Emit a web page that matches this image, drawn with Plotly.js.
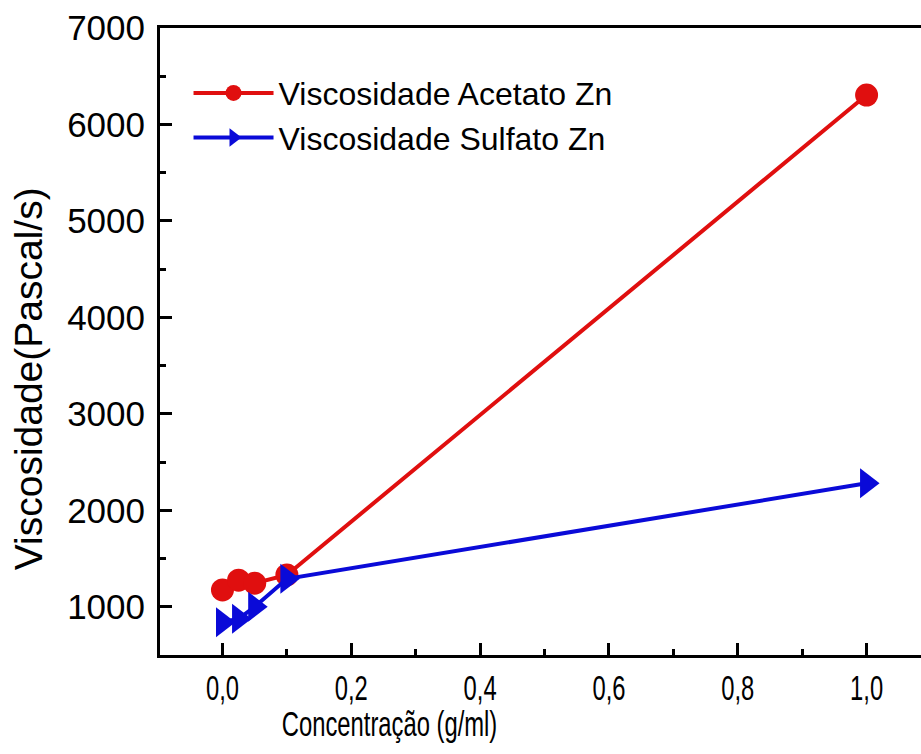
<!DOCTYPE html>
<html>
<head>
<meta charset="utf-8">
<script src="https://cdn.plot.ly/plotly-3.0.1.min.js"></script>
<style>
html, body { margin: 0; padding: 0; overflow: hidden; background: #fff; }
#chart { width: 921px; height: 754px; overflow: hidden; }
/* the reference draws the x-axis texts in a narrow face: compress them horizontally */
#chart g.xtick { transform-box: fill-box; transform-origin: center; transform: scaleX(0.68); }
#chart g.annotation[data-index="0"] text { transform-box: fill-box; transform-origin: center; transform: scaleX(0.68); }
</style>
</head>
<body>
<div id="chart"></div>
<script>
// Data
const concentracao = [0, 0.025, 0.05, 0.1, 1.0];
const viscAcetato = [1175, 1275, 1245, 1330, 6305];
const viscSulfato = [840, 875, 1000, 1290, 2280];
const seriesNames = ["Viscosidade Acetato Zn", "Viscosidade Sulfato Zn"];
const xTitle = "Concentração (g/ml)";
const yTitle = "Viscosidade(Pascal/s)";

const red = "#e00f0f";
const blue = "#0a0ad8";
const mainFont = "Arial, 'Liberation Sans', sans-serif";

const traces = [
  {
    x: concentracao, y: viscAcetato, name: seriesNames[0],
    type: "scatter", mode: "lines+markers",
    line: { color: red, width: 4 },
    marker: { symbol: "circle", size: 23, color: red }
  },
  {
    x: concentracao, y: viscSulfato, name: seriesNames[1],
    type: "scatter", mode: "lines+markers",
    line: { color: blue, width: 4 },
    marker: { symbol: "triangle-right", size: 26, color: blue }
  }
];

const layout = {
  width: 960, height: 754,
  margin: { l: 160, r: 29, t: 28, b: 99 },
  paper_bgcolor: "#fff", plot_bgcolor: "#fff",
  separators: ",.",
  showlegend: true,
  legend: {
    x: 0.037, y: 0.94, xanchor: "left", yanchor: "top",
    font: { family: mainFont, size: 32, color: "#000" },
    bgcolor: "rgba(0,0,0,0)", borderwidth: 0,
    itemwidth: 80, tracegroupgap: 0
  },
  xaxis: {
    range: [-0.097, 1.1],
    showline: true, linecolor: "#000", linewidth: 3, mirror: true,
    showgrid: false, zeroline: false,
    ticks: "inside", ticklen: 12, tickwidth: 3, tickcolor: "#000",
    dtick: 0.2, tick0: 0, tickformat: ".1f",
    minor: { dtick: 0.1, tick0: 0, ticks: "inside", ticklen: 6, tickwidth: 3, tickcolor: "#000", showgrid: false },
    tickfont: { family: mainFont, size: 35, color: "#000" },
    ticklabelstandoff: 0
  },
  yaxis: {
    range: [500, 7000],
    showline: true, linecolor: "#000", linewidth: 3, mirror: true,
    showgrid: false, zeroline: false,
    ticks: "inside", ticklen: 12, tickwidth: 3, tickcolor: "#000",
    dtick: 1000, tick0: 0, tickformat: "d",
    minor: { dtick: 500, tick0: 0, ticks: "inside", ticklen: 6, tickwidth: 3, tickcolor: "#000", showgrid: false },
    tickfont: { family: mainFont, size: 35, color: "#000" },
    ticklabelstandoff: 5
  },
  annotations: [
    {
      text: xTitle, xref: "paper", yref: "paper",
      x: 0.298, y: -0.11, xanchor: "center", yanchor: "middle",
      showarrow: false, font: { family: mainFont, size: 35, color: "#000" }
    },
    {
      text: yTitle, xref: "paper", yref: "paper",
      x: -0.171, y: 0.44, xanchor: "center", yanchor: "middle",
      textangle: -90, showarrow: false,
      font: { family: mainFont, size: 39, color: "#000" }
    }
  ]
};

Plotly.newPlot("chart", traces, layout, { displayModeBar: false, staticPlot: true });
</script>
</body>
</html>
